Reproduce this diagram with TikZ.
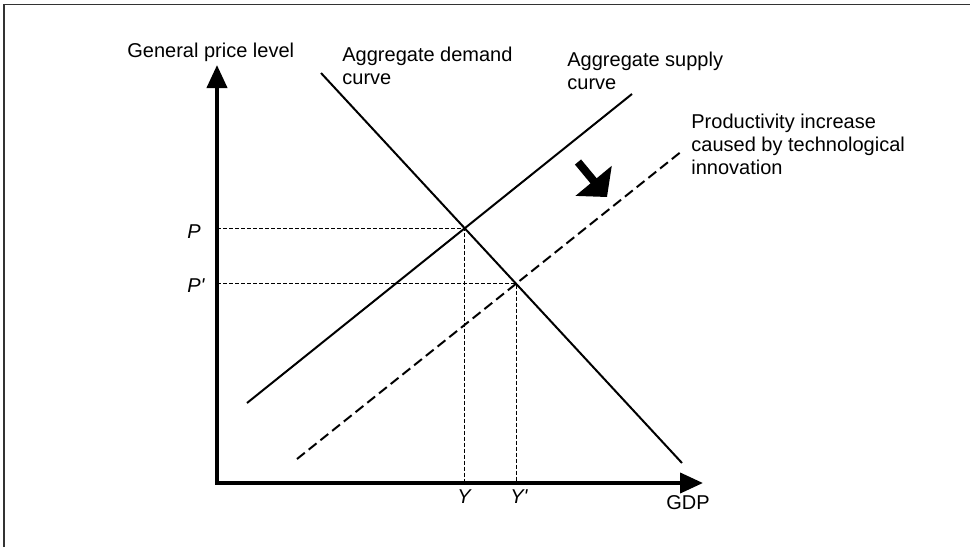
\documentclass[tikz,border=0pt]{standalone}
\usepackage{fontspec}
\setmainfont{Liberation Sans}
\usetikzlibrary{arrows.meta}

\begin{document}
\begin{tikzpicture}[x=0.5pt,y=-0.5pt,font=\fontsize{10}{11.5}\selectfont,
	axis/.style={line width=2pt,line cap=rect,-{Triangle[width=10pt,length=11.5pt]}},
	curve/.style={line width=1pt},
	guide/.style={line width=0.5pt,dash pattern=on 2pt off 1pt},
	lab/.style={anchor=base west,inner sep=0pt,align=left}]
	\useasboundingbox (0,0) rectangle (970,547);
	\draw[line width=0.75pt,black!80] (4,547)--(4,4.5)--(970,4.5);
	% axes
	\coordinate (O) at (217,483);
	\coordinate (ytop) at (217,65);
	\coordinate (xend) at (703,483);
	\draw[axis] (O)--(ytop);
	\draw[axis] (O)--(xend);
	% demand and supply
	\coordinate (ad1) at (321,73);
	\coordinate (ad2) at (682,463);
	\coordinate (as1) at (247,403);
	\coordinate (as2) at (632,94);
	\coordinate (asn1) at (297,459);
	\coordinate (asn2) at (682,151);
	\draw[curve] (ad1)--(ad2);
	\draw[curve] (as1)--(as2);
	\draw[curve,dash pattern=on 5pt off 2.5pt] (asn1)--(asn2);
	\coordinate (E) at (intersection of ad1--ad2 and as1--as2);
	\coordinate (En) at (intersection of ad1--ad2 and asn1--asn2);
	\draw[guide] (O|-E)--(E)--(E|-O);
	\draw[guide] (O|-En)--(En)--(En|-O);
	% shift arrow
	\coordinate (sh1) at (578,162);
	\coordinate (sh2) at (607,197);
	\draw[line width=4pt,-{Triangle[width=23pt,length=10.5pt]}] (sh1)--(sh2);
	% labels
	\node[lab] (ylab) at (127,57) {General price level};
	\node[lab] (adlab) at (342,84) {Aggregate demand\\curve};
	\node[lab] (aslab) at (567,89) {Aggregate supply\\curve};
	\node[lab] (shlab) at (691,174) {Productivity increase\\caused by technological\\innovation};
	\node[lab] (plab) at (187,238) {\textit{P}};
	\node[lab] (pnlab) at (187,292) {\textit{P\textquotesingle}};
	\node[lab] (qlab) at (457,503) {\textit{Y}};
	\node[lab] (qnlab) at (510,503) {\textit{Y\textquotesingle}};
	\node[lab] (xlab) at (666,509) {GDP};
\end{tikzpicture}
\end{document}
